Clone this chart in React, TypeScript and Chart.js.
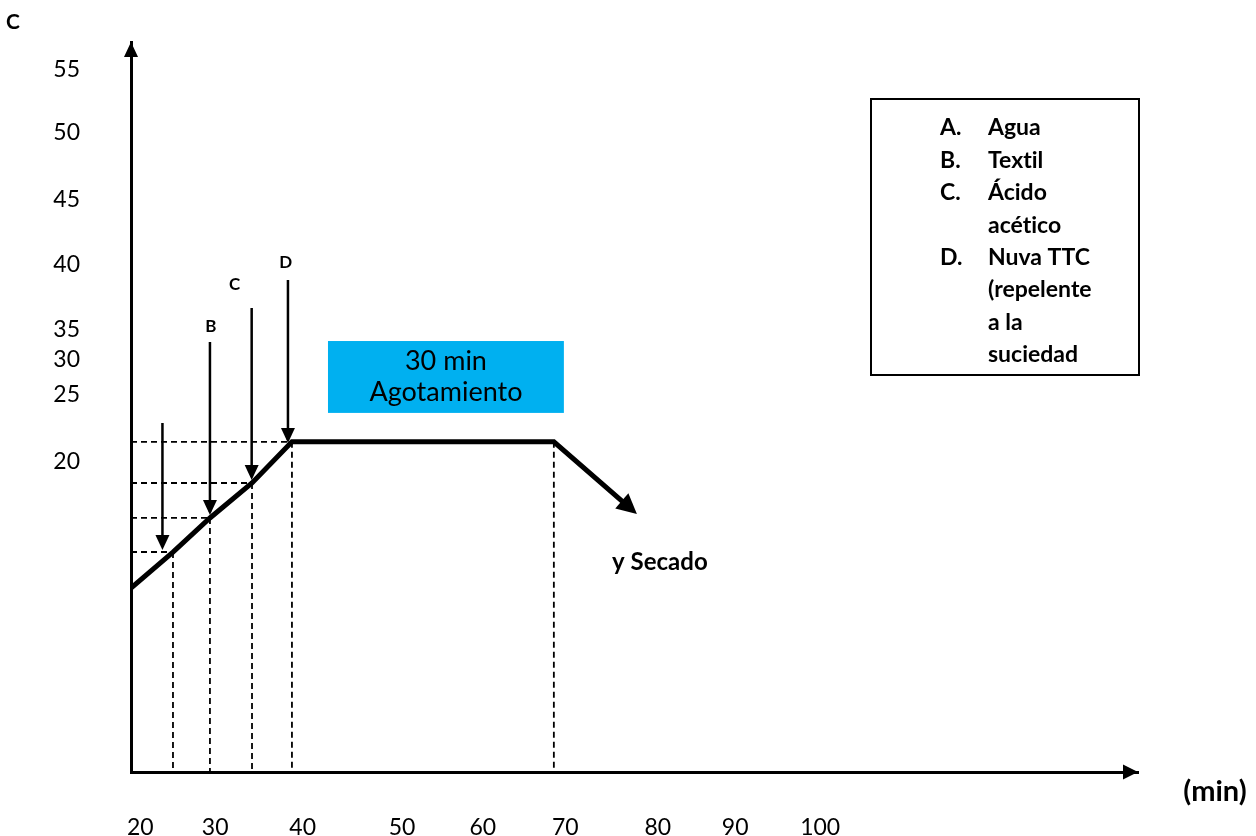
import React, { useEffect, useRef } from "react";
import { Chart, registerables } from "chart.js";

Chart.register(...registerables);

// ---- axis tick labels (x in minutes, y in schematic °C) ----
const xTickLabels = ["20", "30", "40", "50", "60", "70", "80", "90", "100"];
const xTickPositions = [19.9, 28.7, 39.0, 50.7, 60.2, 69.9, 80.8, 89.9, 99.9];
const yTickLabels = ["55", "50", "45", "40", "35", "30", "25", "20"];
const yTickPositions = [55, 50.2, 45, 40, 35, 32.7, 30, 24.85];

// ---- temperature profile ----
const profileX = [18.8, 23.74, 28.09, 33.04, 37.74, 68.56, 77.8];
const profileY = [15.15, 17.92, 20.54, 23.23, 26.4, 26.4, 21.15];

// ---- guide points (dashed lines) ----
const guideX = [23.74, 28.09, 33.04, 37.74];
const guideY = [17.92, 20.54, 23.23, 26.4];
const dropX = [23.74, 28.09, 33.04, 37.74, 68.56];
const dropY = [17.92, 20.54, 23.23, 26.4, 26.4];

// ---- addition arrows ----
const addLabels = ["", "B", "C", "D"];
const addX = [22.5, 28.09, 33.0, 37.27];
const addTopY = [27.85, 34.08, 36.69, 38.85];
const addEndY = [18.31, 21.0, 23.69, 26.54];
const addLabelX = [22.5, 28.2, 31.0, 37.0];
const addLabelY = [29.5, 35.3, 38.5, 40.2];

// ---- annotations ----
const boxX = [41.98, 69.74];
const boxY = [28.62, 34.15];
const boxLines = ["30 min", "Agotamiento"];
const dryLabel = "y Secado";
const dryX = 81.04;
const dryY = 17.15;

// ---- legend ----
const legendKeys = ["A.", "B.", "C.", "D."];
const legendTexts = [["Agua"], ["Textil"], ["Ácido", "acético"], ["Nuva TTC", "(repelente", "a la", "suciedad"]];

const X_MIN = 18.8;
const X_MAX = 137.3;
const Y_MIN = 1.0;
const Y_MAX = 57.15;
const FONT = "Lato";

// break typographic ligatures (e.g. "ti") so the text renders letter by letter
const noLig = (s: string) => s.replace(/t(?=i)/g, "t\u200C").replace(/f(?=[il])/g, "f\u200C");

function head(ctx: CanvasRenderingContext2D, tx: number, ty: number, ux: number, uy: number, len: number, hw: number) {
  const bx = tx - ux * len;
  const by = ty - uy * len;
  const px = -uy;
  const py = ux;
  ctx.beginPath();
  ctx.moveTo(tx, ty);
  ctx.lineTo(bx + px * hw, by + py * hw);
  ctx.lineTo(bx - px * hw, by - py * hw);
  ctx.closePath();
  ctx.fill();
}

const arrowPlugin = {
  id: "arrowHeads",
  afterDatasetsDraw(chart: any) {
    const ctx = chart.ctx as CanvasRenderingContext2D;
    ctx.save();
    ctx.fillStyle = "#000";
    chart.data.datasets.forEach((ds: any, i: number) => {
      const h = ds.arrowHead;
      if (!h) return;
      const pts = chart.getDatasetMeta(i).data;
      const n = pts.length;
      const p1 = pts[n - 2];
      const p2 = pts[n - 1];
      const dx = p2.x - p1.x;
      const dy = p2.y - p1.y;
      const l = Math.hypot(dx, dy) || 1;
      const ux = dx / l;
      const uy = dy / l;
      head(ctx, p2.x + ux * h.extend, p2.y + uy * h.extend, ux, uy, h.length, h.half);
    });
    ctx.restore();
  },
  afterDraw(chart: any) {
    const ctx = chart.ctx as CanvasRenderingContext2D;
    const a = chart.chartArea;
    ctx.save();
    ctx.fillStyle = "#000";
    head(ctx, a.left, a.top, 0, -1, 15, 7);
    head(ctx, a.right, a.bottom, 1, 0, 15, 7.5);
    ctx.restore();
  },
};

const notesPlugin = {
  id: "notes",
  afterDatasetsDraw(chart: any) {
    const ctx = chart.ctx as CanvasRenderingContext2D;
    const xs = chart.scales.x;
    const ys = chart.scales.y;
    ctx.save();
    // blue box
    const bx1 = xs.getPixelForValue(boxX[0]);
    const bx2 = xs.getPixelForValue(boxX[1]);
    const by1 = ys.getPixelForValue(boxY[1]);
    const by2 = ys.getPixelForValue(boxY[0]);
    ctx.fillStyle = "#00B0F0";
    ctx.fillRect(bx1, by1, bx2 - bx1, by2 - by1);
    ctx.fillStyle = "#000";
    ctx.textAlign = "center";
    ctx.textBaseline = "middle";
    ctx.font = `27px ${FONT}`;
    const cx = (bx1 + bx2) / 2;
    const cy = (by1 + by2) / 2;
    boxLines.forEach((t, i) => ctx.fillText(noLig(t), cx, cy + (i - (boxLines.length - 1) / 2) * 31));

    // arrow letters
    ctx.font = `bold 17px ${FONT}`;
    addLabels.forEach((t, i) => {
      if (!t) return;
      ctx.fillText(t, xs.getPixelForValue(addLabelX[i]), ys.getPixelForValue(addLabelY[i]));
    });

    // drying label
    ctx.font = `bold 24px ${FONT}`;
    ctx.fillText(dryLabel, xs.getPixelForValue(dryX), ys.getPixelForValue(dryY));

    // axis titles
    ctx.font = `bold 21px ${FONT}`;
    ctx.fillText("C", 13, 22);
    ctx.font = `bold 29px ${FONT}`;
    ctx.fillText("(min)", 1215, 792);

    // legend box
    ctx.strokeStyle = "#000";
    ctx.lineWidth = 2;
    ctx.strokeRect(871, 99, 268, 276);
    ctx.textAlign = "left";
    ctx.font = `bold 23px ${FONT}`;
    let line = 0;
    legendKeys.forEach((k, i) => {
      ctx.fillText(k, 940, 128 + line * 32.4);
      legendTexts[i].forEach((t) => {
        ctx.fillText(noLig(t), 988, 128 + line * 32.4);
        line++;
      });
    });
    ctx.restore();
  },
};

export default function App() {
  const ref = useRef<HTMLCanvasElement>(null);
  useEffect(() => {
    if (!ref.current) return;
    const dashed = { borderColor: "#000", borderWidth: 1.8, borderDash: [6, 4], pointRadius: 0, showLine: true, fill: false };
    const datasets: any[] = [];
    guideX.forEach((gx, i) => {
      datasets.push({ ...dashed, data: [{ x: X_MIN, y: guideY[i] }, { x: gx, y: guideY[i] }] });
    });
    dropX.forEach((dx, i) => {
      datasets.push({ ...dashed, data: [{ x: dx, y: dropY[i] }, { x: dx, y: Y_MIN }] });
    });
    datasets.push({
      data: profileX.map((x, i) => ({ x, y: profileY[i] })),
      borderColor: "#000",
      borderWidth: 5,
      borderJoinStyle: "miter",
      pointRadius: 0,
      showLine: true,
      fill: false,
      arrowHead: { extend: 6, length: 20, half: 10 },
    });
    addX.forEach((ax, i) => {
      datasets.push({
        data: [{ x: ax, y: addTopY[i] }, { x: ax, y: addEndY[i] }],
        borderColor: "#000",
        borderWidth: 2.5,
        pointRadius: 0,
        showLine: true,
        fill: false,
        arrowHead: { extend: 3, length: 15, half: 7 },
      });
    });

    const tickFont = { family: FONT, size: 23 };
    const chart = new Chart(ref.current, {
      type: "scatter",
      data: { datasets },
      options: {
        animation: false,
        responsive: true,
        maintainAspectRatio: false,
        events: [],
        layout: { padding: { top: 42, right: 118, left: 0, bottom: 0 } },
        plugins: { legend: { display: false }, tooltip: { enabled: false } },
        scales: {
          x: {
            type: "linear",
            min: X_MIN,
            max: X_MAX,
            grid: { display: false },
            border: { display: true, color: "#000", width: 3 },
            afterBuildTicks: (s: any) => {
              s.ticks = xTickPositions.map((v) => ({ value: v }));
            },
            afterFit: (s: any) => {
              s.height = 64;
              s.paddingLeft = 0;
              s.paddingRight = 0;
            },
            ticks: {
              callback: (_v: any, i: number) => xTickLabels[i],
              font: tickFont,
              color: "#000",
              padding: 34,
              maxRotation: 0,
              autoSkip: false,
            },
          },
          y: {
            type: "linear",
            min: Y_MIN,
            max: Y_MAX,
            grid: { display: false },
            border: { display: true, color: "#000", width: 3 },
            afterBuildTicks: (s: any) => {
              s.ticks = yTickPositions.map((v) => ({ value: v }));
            },
            afterFit: (s: any) => {
              s.width = 131;
              s.paddingTop = 0;
              s.paddingBottom = 0;
            },
            ticks: {
              callback: (_v: any, i: number) => yTickLabels[i],
              font: tickFont,
              color: "#000",
              padding: 43,
              autoSkip: false,
            },
          },
        },
      } as any,
      plugins: [arrowPlugin, notesPlugin],
    });
    return () => chart.destroy();
  }, []);

  return (
    <div style={{ position: "fixed", left: 0, top: 0, width: 1256, height: 836, background: "#fff" }}>
      <canvas ref={ref} style={{ display: "block" }} />
    </div>
  );
}
